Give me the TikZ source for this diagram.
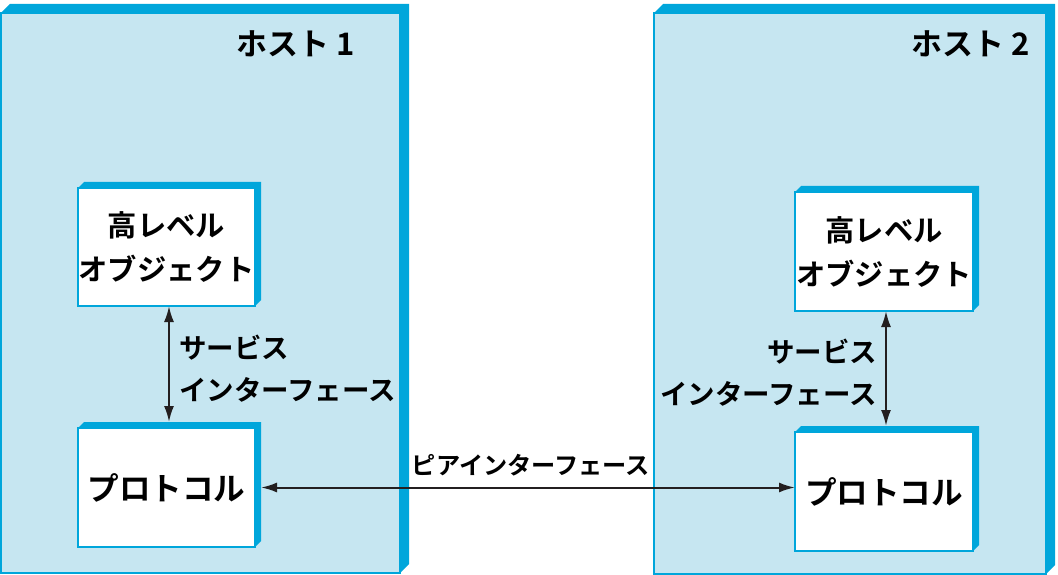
\documentclass[tikz,border=0pt]{standalone}
\usepackage{fontspec}
\newfontfamily\jpfont{Noto Sans CJK JP Bold}
\definecolor{B}{RGB}{0,166,219}
\definecolor{L}{RGB}{198,230,241}
\definecolor{A}{RGB}{35,31,32}
\usetikzlibrary{arrows.meta}
\usetikzlibrary{positioning}
\tikzstyle{base}=[x=1pt, y=-1pt, inner sep=0pt, outer sep=0pt]
\tikzstyle{host}=[draw=B, line width=1.5pt, fill=L, rectangle]
\tikzstyle{unit}=[draw=B, line width=1.5pt, fill=white, rectangle, align=center]
\tikzstyle{link}=[A, line width=2pt, {Latex[length=16pt,width=10pt]}-{Latex[length=16pt,width=10pt]}]
\newcommand*{\raised}[2]{\fill [B] (#1.north west) -- ([xshift=#2, yshift=#2]#1.north west) -- ([xshift=#2, yshift=#2]#1.north east) -- ([xshift=#2, yshift=#2]#1.south east) -- (#1.south east) -- (#1.north east) -- cycle;}

\begin{document}
\begin{tikzpicture}[base]
    \jpfont
        \path [use as bounding box] (0,0) rectangle (1058,575);
        \node [host, minimum width=399pt, minimum height=560pt] (host1) at (200.5,293) {};
        \node [host, minimum width=392pt, minimum height=561pt] (host2) at (850,293.5) {};
        \raised{host1}{9pt}
        \raised{host2}{9pt}
        \node [font=\fontsize{31}{31}\selectfont] (title1) at (296,44) {ホスト 1};
        \node [font=\fontsize{31}{31}\selectfont] (title2) at (971,44) {ホスト 2};
        \node [unit, minimum width=177pt, minimum height=118pt, font=\fontsize{29.3}{44}\selectfont] (obj1) at (166.5,247) {高レベル\\オブジェクト};
        \node [unit, minimum width=177pt, minimum height=119pt, font=\fontsize{31.6}{31.6}\selectfont] (proto1) at (166.5,487.5) {プロトコル};
        \node [unit, minimum width=178pt, minimum height=119pt, font=\fontsize{29.3}{44}\selectfont] (obj2) at (884,251.5) {高レベル\\オブジェクト};
        \node [unit, minimum width=178pt, minimum height=119pt, font=\fontsize{31.6}{31.6}\selectfont] (proto2) at (884,491.5) {プロトコル};
        \raised{obj1}{6pt}
        \raised{proto1}{6pt}
        \raised{obj2}{6pt}
        \raised{proto2}{6pt}
        \draw [link] ([xshift=2.5pt]obj1.south) -- ([xshift=2.5pt, yshift=6pt]proto1.north);
        \draw [link] ([xshift=2pt]obj2.south) -- ([xshift=2pt, yshift=6pt]proto2.north);
        \draw [link] ([xshift=6pt]proto1.east) -- (proto1.east -| proto2.west);
        \node [anchor=west, align=left, font=\fontsize{27.5}{42}\selectfont] (svc1) at (179,369) {サービス\\インターフェース};
        \node [anchor=east, align=right, font=\fontsize{27.5}{42}\selectfont] (svc2) at (877,373) {サービス\\インターフェース};
        \node [font=\fontsize{24.2}{24.2}\selectfont] (peer) at (531,465) {ピアインターフェース};
    \end{tikzpicture}
\end{document}
